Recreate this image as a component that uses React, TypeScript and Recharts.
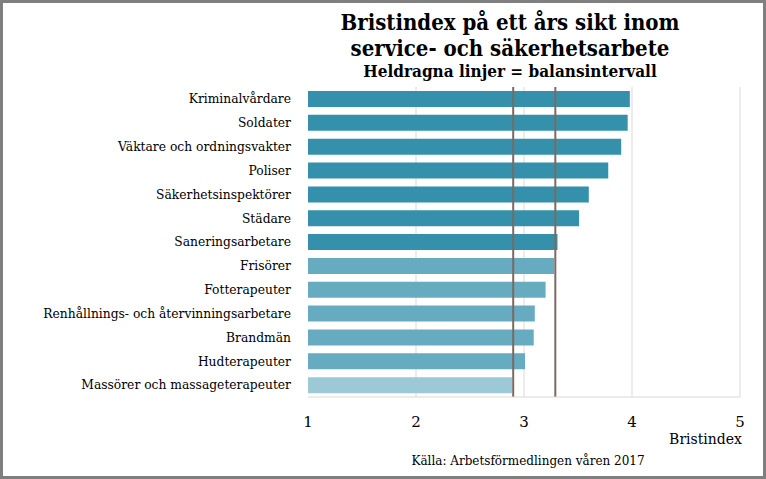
import React from 'react';
import { ComposedChart, Bar, XAxis, YAxis, CartesianGrid, ReferenceLine, Cell } from 'recharts';

const categories = [
  'Kriminalvårdare',
  'Soldater',
  'Väktare och ordningsvakter',
  'Poliser',
  'Säkerhetsinspektörer',
  'Städare',
  'Saneringsarbetare',
  'Frisörer',
  'Fotterapeuter',
  'Renhållnings- och återvinningsarbetare',
  'Brandmän',
  'Hudterapeuter',
  'Massörer och massageterapeuter',
];
const values = [3.98, 3.96, 3.9, 3.78, 3.6, 3.51, 3.31, 3.28, 3.2, 3.1, 3.09, 3.01, 2.89];
const groups = ['hög', 'hög', 'hög', 'hög', 'hög', 'hög', 'hög', 'balans', 'balans', 'balans', 'balans', 'balans', 'låg'];
const xTicks = [1, 2, 3, 4, 5];
const gridValues = [2, 3, 4, 5];
const balanceInterval = [2.9, 3.29];

const groupColors: Record<string, string> = {
  hög: '#3591ab',
  balans: '#66abbf',
  låg: '#9bc9d6',
};

const data = categories.map((name, i) => ({ name, value: values[i], group: groups[i] }));

const serif = '"DejaVu Serif", Georgia, serif';

export default function App() {
  return (
    <div style={{ position: 'absolute', left: 0, top: 0, width: 766, height: 479, background: '#fff', fontFamily: serif }}>
      <ComposedChart
        width={766}
        height={479}
        data={data}
        layout="vertical"
        margin={{ top: 87, right: 26, bottom: 52, left: 8 }}
        barSize={16}
      >
        <CartesianGrid horizontal={false} verticalValues={gridValues} stroke="#d9d9d9" />
        <XAxis
          type="number"
          domain={[1, 5]}
          ticks={xTicks}
          allowDataOverflow
          axisLine={{ stroke: '#d9d9d9' }}
          tickLine={false}
          tickSize={0}
          tickMargin={19}
          height={30}
          tick={{ fill: '#000', fontSize: 15, fontFamily: serif }}
        />
        <YAxis
          type="category"
          dataKey="name"
          width={300}
          axisLine={false}
          tickLine={false}
          tickSize={0}
          tickMargin={17}
          interval={0}
          tick={{ fill: '#000', fontSize: 12.3, fontFamily: serif }}
        />
        <Bar dataKey="value" isAnimationActive={false}>
          {data.map((d, i) => (
            <Cell key={i} fill={groupColors[d.group]} />
          ))}
        </Bar>
        {balanceInterval.map((v) => (
          <ReferenceLine key={v} x={v} stroke="#7a6a62" strokeWidth={2} />
        ))}
      </ComposedChart>
      <div style={{ position: 'absolute', left: 260, width: 500, top: 9, textAlign: 'center', fontWeight: 'bold', fontSize: 22, lineHeight: '26px', fontFamily: '"DejaVu Serif Condensed", "DejaVu Serif", serif', color: '#000' }}>
        <div>Bristindex på ett års sikt inom</div>
        <div>service- och säkerhetsarbete</div>
        <div style={{ fontSize: 17, lineHeight: '20px' }}>Heldragna linjer = balansintervall</div>
      </div>
      <div style={{ position: 'absolute', right: 24, top: 431, fontSize: 14, color: '#000' }}>Bristindex</div>
      <div style={{ position: 'absolute', left: 300, width: 456, top: 454, textAlign: 'center', fontSize: 12, color: '#000' }}>
        Källa: Arbetsförmedlingen våren 2017
      </div>
      <div style={{ position: 'absolute', left: 0, top: 0, width: 766, height: 479, boxSizing: 'border-box', border: '3px solid #7f7f7f', pointerEvents: 'none' }} />
    </div>
  );
}
